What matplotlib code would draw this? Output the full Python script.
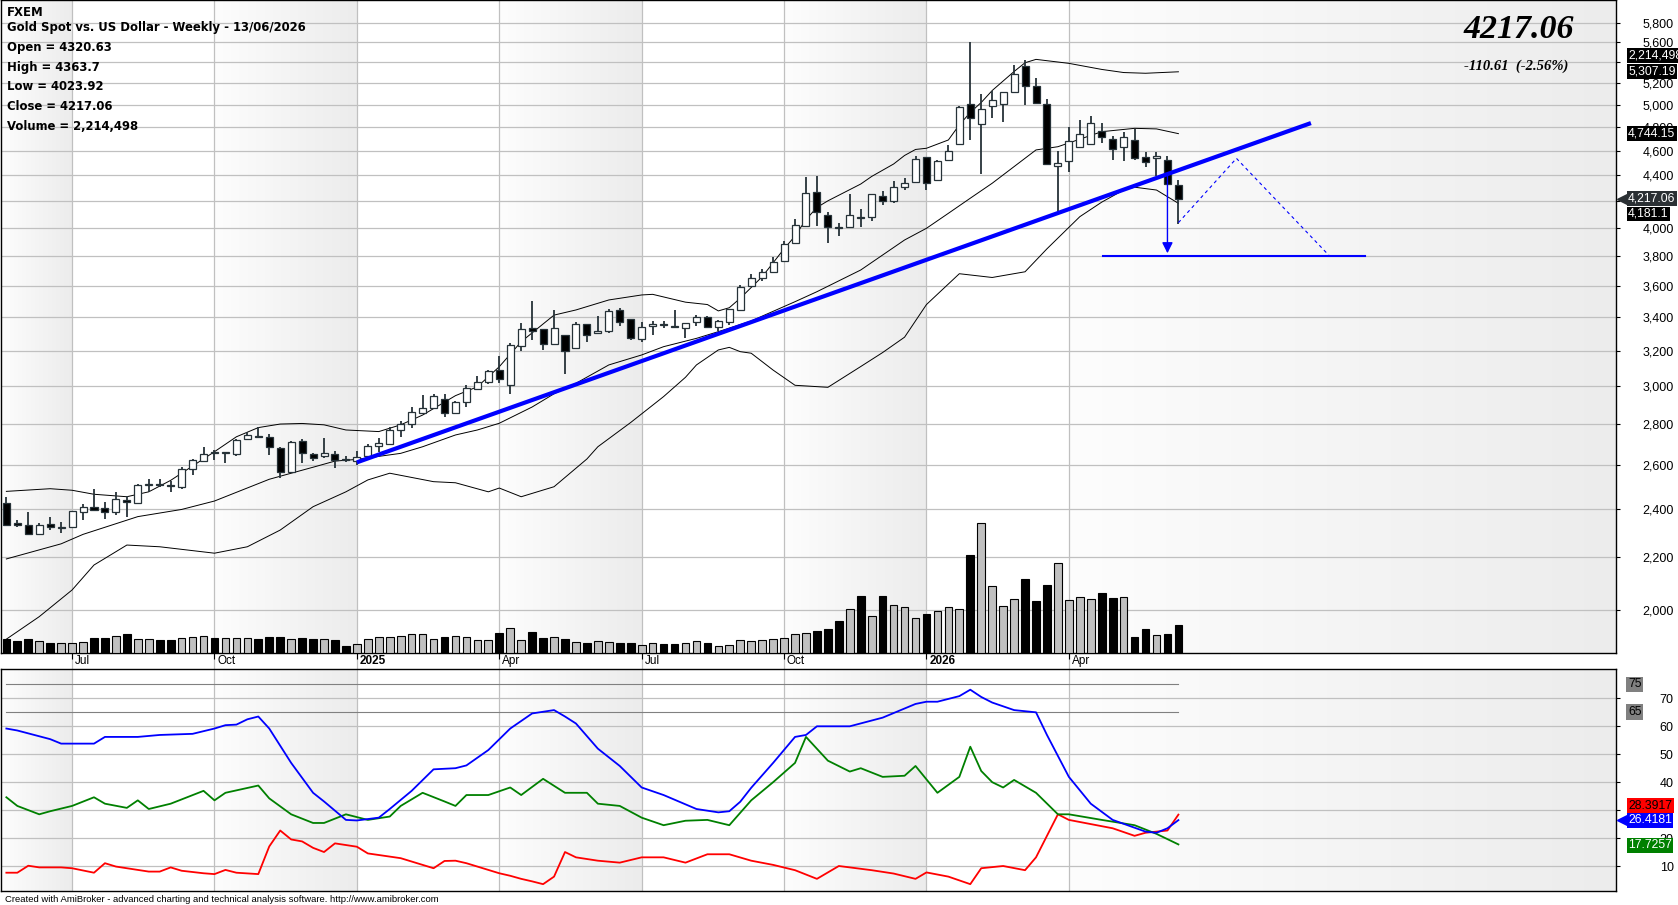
import numpy as np
import pandas as pd
import matplotlib
matplotlib.use("Agg")
import matplotlib.pyplot as plt
import matplotlib.transforms as mtransforms
from matplotlib.colors import LinearSegmentedColormap
from matplotlib.ticker import FixedLocator, FuncFormatter, NullLocator

# weekly OHLC, gold spot, 108 bars ending 12/06/2026
opens = [2429, 2342, 2333, 2294, 2337, 2322, 2326, 2389, 2411, 2406, 2389, 2441, 2430, 2508, 2512, 2507,
         2498, 2581, 2621, 2664, 2657, 2653, 2728, 2740, 2738, 2685, 2567, 2717, 2654, 2644, 2654, 2628,
         2620, 2646, 2692, 2703, 2771, 2803, 2860, 2885, 2934, 2860, 2917, 2986, 3024, 3088, 3007, 3227,
         3335, 3329, 3241, 3292, 3214, 3357, 3302, 3314, 3445, 3390, 3269, 3345, 3361, 3349, 3333, 3369,
         3404, 3339, 3369, 3447, 3596, 3649, 3689, 3767, 3894, 4013, 4269, 4090, 4003, 4008, 4080, 4075,
         4236, 4200, 4310, 4349, 4546, 4362, 4525, 4654, 5006, 4826, 4986, 5009, 5119, 5367, 5168, 5009,
         4477, 4517, 4634, 4657, 4771, 4697, 4629, 4691, 4546, 4541, 4525, 4320.63]
highs = [2453, 2354, 2389, 2343, 2368, 2344, 2395, 2424, 2489, 2433, 2479, 2461, 2512, 2535, 2535, 2529,
         2591, 2630, 2688, 2675, 2663, 2725, 2760, 2787, 2754, 2690, 2716, 2725, 2660, 2730, 2670, 2643,
         2670, 2701, 2730, 2787, 2816, 2890, 2951, 2960, 2960, 2920, 3007, 3055, 3090, 3172, 3246, 3365,
         3500, 3331, 3443, 3295, 3373, 3360, 3410, 3451, 3459, 3392, 3369, 3375, 3378, 3445, 3365, 3414,
         3406, 3384, 3451, 3604, 3678, 3711, 3796, 3904, 4064, 4385, 4392, 4113, 4038, 4251, 4138, 4255,
         4272, 4353, 4379, 4557, 4549, 4525, 4649, 4987, 5600, 5098, 5126, 5120, 5377, 5420, 5248, 5048,
         4600, 4800, 4864, 4899, 4835, 4723, 4762, 4786, 4587, 4592, 4552, 4363.7]
lows = [2330, 2323, 2292, 2292, 2312, 2301, 2324, 2354, 2395, 2358, 2378, 2368, 2428, 2479, 2500, 2479,
        2492, 2555, 2619, 2627, 2611, 2645, 2724, 2730, 2649, 2543, 2565, 2613, 2621, 2633, 2587, 2618,
        2600, 2642, 2665, 2701, 2738, 2784, 2858, 2883, 2838, 2858, 2890, 2984, 3012, 3019, 2957, 3196,
        3263, 3206, 3240, 3069, 3210, 3253, 3300, 3302, 3349, 3263, 3251, 3292, 3337, 3335, 3278, 3349,
        3333, 3318, 3353, 3445, 3593, 3633, 3687, 3765, 3892, 4010, 4013, 3894, 3937, 4005, 4008, 4050,
        4170, 4180, 4285, 4346, 4285, 4360, 4522, 4652, 4686, 4411, 4883, 4849, 5103, 5000, 5015, 4489,
        4125, 4424, 4631, 4654, 4666, 4525, 4512, 4525, 4467, 4392, 4327, 4023.92]
closes = [2333, 2335, 2294, 2333, 2323, 2324, 2393, 2411, 2399, 2389, 2444, 2433, 2509, 2512, 2508, 2503,
          2585, 2627, 2654, 2660, 2661, 2722, 2748, 2736, 2689, 2567, 2714, 2657, 2636, 2657, 2626, 2625,
          2638, 2694, 2706, 2774, 2803, 2864, 2884, 2946, 2860, 2917, 2990, 3022, 3084, 3038, 3233, 3327,
          3314, 3241, 3333, 3200, 3359, 3292, 3316, 3441, 3373, 3278, 3339, 3359, 3357, 3339, 3363, 3400,
          3339, 3375, 3449, 3593, 3649, 3689, 3762, 3887, 4020, 4259, 4118, 4008, 3998, 4092, 4068, 4251,
          4200, 4303, 4341, 4533, 4341, 4517, 4597, 4978, 4883, 4962, 5044, 5113, 5287, 5168, 5017, 4491,
          4499, 4683, 4743, 4835, 4714, 4611, 4714, 4537, 4507, 4557, 4327.67, 4217.06]
# volume, millions
volumes = [1.094, 0.964, 1.094, 0.938, 0.808, 0.782, 0.782, 0.886, 1.172, 1.172, 1.329, 1.511, 1.094, 1.094,
           1.042, 1.042, 1.172, 1.251, 1.329, 1.172, 1.172, 1.172, 1.172, 1.094, 1.251, 1.251, 1.094, 1.172,
           1.094, 1.094, 1.016, 0.573, 0.703, 1.094, 1.251, 1.251, 1.329, 1.511, 1.511, 1.094, 1.251, 1.329,
           1.251, 1.016, 1.016, 1.589, 1.954, 1.016, 1.667, 1.172, 1.251, 1.094, 0.886, 0.808, 0.964, 0.886,
           0.808, 0.808, 0.625, 0.782, 0.729, 0.729, 0.808, 0.938, 0.808, 0.547, 0.625, 1.016, 0.938, 1.016,
           1.094, 1.172, 1.485, 1.563, 1.746, 1.902, 2.527, 3.439, 4.481, 2.892, 4.481, 3.752, 3.595, 2.736,
           3.074, 3.283, 3.595, 3.439, 7.686, 10.161, 5.237, 3.673, 4.221, 5.810, 4.090, 5.341, 7.034, 4.142,
           4.377, 4.221, 4.716, 4.325, 4.377, 1.277, 1.902, 1.407, 1.511, 2.214498]

# bollinger bands, read at selected bars
upper_x = [0, 4, 6, 8, 11, 13, 15, 19, 21, 23, 25, 27, 29, 31, 34, 36, 38, 41, 43, 45, 47, 50, 52, 55, 58,
           59, 62, 64, 65, 66, 67, 69, 71, 72, 73, 74, 75, 78, 79, 81, 82, 83, 84, 86, 87, 88, 89, 90, 92,
           93, 94, 97, 100, 102, 104, 107]
upper = [2480, 2492, 2485, 2467, 2456, 2478, 2530, 2665, 2738, 2784, 2802, 2805, 2798, 2772, 2764, 2798,
         2848, 2950, 2998, 3109, 3253, 3414, 3446, 3509, 3541, 3545, 3495, 3480, 3440, 3460, 3520, 3660,
         3850, 3940, 4060, 4150, 4200, 4330, 4390, 4490, 4560, 4610, 4620, 4690, 4820, 4930, 5020, 5130,
         5310, 5395, 5428, 5389, 5330, 5300, 5293, 5307.19]
middle_x = [0, 5, 7, 12, 16, 19, 24, 26, 28, 30, 32, 36, 38, 41, 43, 45, 48, 50, 52, 55, 58, 60, 63, 65,
            68, 72, 74, 78, 82, 84, 86, 88, 90, 94, 96, 100, 103, 105, 107]
middle = [2194, 2255, 2294, 2369, 2400, 2437, 2535, 2563, 2591, 2620, 2628, 2657, 2689, 2747, 2772, 2806,
          2890, 2960, 3017, 3119, 3176, 3224, 3273, 3313, 3378, 3498, 3562, 3705, 3912, 3996, 4106, 4220,
          4336, 4606, 4633, 4761, 4790, 4785, 4744.15]
lower_x = [0, 3, 6, 8, 11, 14, 19, 22, 25, 28, 31, 33, 35, 39, 41, 44, 45, 47, 50, 53, 54, 57, 60, 62, 63,
           65, 66, 67, 68, 70, 72, 75, 78, 80, 82, 84, 87, 90, 93, 95, 98, 100, 102, 103, 105, 107]
lower = [1897, 1976, 2074, 2170, 2250, 2243, 2217, 2243, 2312, 2412, 2478, 2532, 2563, 2524, 2519, 2478,
         2495, 2456, 2501, 2630, 2689, 2810, 2945, 3050, 3119, 3205, 3220, 3195, 3186, 3090, 3006, 2995,
         3110, 3190, 3280, 3480, 3680, 3655, 3693, 3850, 4081, 4190, 4283, 4305, 4283, 4181.1]

# ADX / DMI
adx_x = [0, 1, 4, 5, 8, 9, 12, 14, 17, 19, 20, 21, 22, 23, 24, 26, 28, 29, 31, 32, 33, 34, 35, 37, 39, 41,
         42, 44, 46, 48, 50, 51, 52, 54, 56, 58, 60, 63, 65, 66, 67, 68, 70, 72, 73, 74, 77, 80, 83, 84, 85,
         87, 88, 89, 90, 92, 94, 95, 97, 99, 101, 104, 105, 106, 107]
adx = [59.2, 58.5, 55.4, 53.8, 53.8, 56.2, 56.2, 56.9, 57.3, 59.2, 60.4, 60.6, 62.5, 63.5, 59.2, 46.9, 36.2,
       33.1, 26.5, 26.3, 26.8, 27.3, 30.4, 36.9, 44.6, 45.0, 46.0, 51.5, 59.2, 64.6, 65.8, 63.5, 61.0, 52.0,
       45.8, 38.1, 35.4, 30.4, 29.2, 29.6, 33.0, 38.0, 46.9, 56.2, 56.9, 60.0, 60.0, 63.1, 68.0, 68.8, 68.8,
       70.8, 73.1, 70.5, 68.5, 65.8, 65.0, 56.9, 41.9, 32.3, 26.5, 22.3, 21.9, 23.5, 26.4181]
pdi_x = [0, 1, 3, 4, 6, 8, 9, 11, 12, 13, 15, 18, 19, 20, 23, 24, 26, 28, 29, 31, 33, 35, 36, 38, 40, 41,
         42, 44, 46, 47, 49, 51, 53, 54, 56, 58, 60, 62, 64, 66, 68, 70, 72, 73, 75, 77, 78, 80, 82, 83, 85,
         87, 88, 89, 90, 91, 92, 94, 96, 97, 100, 103, 105, 107]
pdi = [34.6, 31.5, 28.5, 29.6, 31.5, 34.6, 32.3, 30.8, 33.5, 30.4, 32.3, 36.9, 33.5, 36.2, 38.8, 34.2, 28.5,
       25.4, 25.4, 28.5, 26.5, 27.7, 31.5, 36.2, 33.1, 31.5, 35.4, 35.4, 38.1, 35.4, 41.2, 36.2, 36.2, 32.3,
       31.5, 27.3, 24.6, 26.2, 26.5, 24.6, 33.5, 40.0, 46.9, 56.2, 47.7, 43.8, 45.0, 41.9, 42.3, 45.8, 36.2,
       41.9, 52.7, 44.0, 40.0, 38.1, 40.8, 36.2, 28.5, 28.5, 26.5, 24.6, 21.5, 17.7257]
mdi_x = [0, 1, 2, 3, 5, 6, 8, 9, 10, 13, 14, 15, 16, 18, 19, 20, 21, 23, 24, 25, 26, 27, 28, 29, 30, 32,
         33, 36, 39, 40, 41, 42, 45, 46, 47, 48, 49, 50, 51, 52, 54, 56, 58, 60, 62, 64, 66, 68, 70, 72, 74,
         76, 79, 81, 83, 84, 86, 88, 89, 91, 93, 94, 96, 97, 101, 103, 104, 106, 107]
mdi = [7.6, 7.6, 10.1, 9.5, 9.5, 9.2, 7.6, 11.0, 9.8, 8.0, 8.0, 9.5, 8.3, 7.4, 7.1, 8.6, 7.6, 7.1, 17.0, 22.7,
       19.5, 18.8, 16.5, 15.0, 18.1, 16.9, 14.5, 12.8, 9.2, 11.8, 11.9, 11.0, 7.4, 6.5, 5.4, 4.5, 3.5, 6.2,
       15.0, 13.1, 11.9, 11.2, 13.1, 13.1, 11.2, 14.2, 14.2, 11.9, 10.4, 8.5, 5.4, 10.0, 8.5, 7.3, 5.4, 7.7,
       6.2, 3.5, 9.2, 10.0, 8.5, 13.1, 28.5, 26.5, 23.5, 20.8, 21.9, 22.7, 28.3917]

# drawn studies (bar index, price)
trend_x, trend_y = [32.0, 119.1], [2614, 4836]
target_x, target_y = [100.1, 124.0], [3800, 3800]
proj_x, proj_y = [107.0, 112.3, 120.8], [4037, 4536, 3800]

price_ticks = list(range(2000, 5801, 200))
price_hidden = [5400, 4200]          # covered by the value boxes
adx_ticks = [10, 20, 30, 40, 50, 60, 70]
adx_hidden = [30]

o, h, l, c = map(np.array, (opens, highs, lows, closes))
n = len(c)
idx = np.arange(n)
dates = pd.date_range(end="2026-06-12", periods=n, freq="W-FRI")
up = c >= o

W, H = 1678, 905
XR = 1616
fig = plt.figure(figsize=(W / 100, H / 100), dpi=100)


def rect(top, bottom):
    return [1 / W, 1 - bottom / H, (XR - 1) / W, (bottom - top) / H]


xlim = (-0.49, 146.95)
bg = fig.add_axes(rect(0, 653))
ax = fig.add_axes(rect(0, 653), sharex=bg)
axv = fig.add_axes(rect(0, 653), sharex=bg)
ax2 = fig.add_axes(rect(669.3, 890.7), sharex=bg)
bg.set_xlim(*xlim)
bg.axis("off")
ax.patch.set_visible(False)
axv.patch.set_visible(False)
axv.axis("off")

# quarter ticks
qt = [i for i in range(1, n) if dates[i].month in (1, 4, 7, 10) and dates[i].month != dates[i - 1].month]
qlab = [str(dates[i].year) if dates[i].month == 1 else dates[i].strftime("%b") for i in qt]

# alternating quarter shading
shade = LinearSegmentedColormap.from_list("sh", ["#fdfdfd", "#ececec"])
spans = [(xlim[0], qt[0])] + [(qt[k], qt[k + 1]) for k in range(1, len(qt) - 1, 2)] + [(qt[-1], xlim[1])]
grad = np.linspace(0, 1, 256).reshape(1, -1)
for a, b in spans:
    bg.imshow(grad, cmap=shade, aspect="auto", extent=(a, b, 0, 1), zorder=0)
    ax2.imshow(grad, cmap=shade, aspect="auto", extent=(a, b, 0, 82), zorder=0)
bg.set_ylim(0, 1)

gc = "#c0c0c0"
wick = "#263238"

# price pane
ax.set_yscale("log")
ax.set_ylim(1850, 6045)
ax.set_xlim(*xlim)
ax.yaxis.set_major_locator(FixedLocator(price_ticks))
ax.yaxis.set_minor_locator(NullLocator())
ax.yaxis.set_major_formatter(FuncFormatter(lambda v, p: "" if round(v) in price_hidden else f"{v:,.0f}"))
ax.grid(True, axis="both", color=gc, lw=0.9)
ax.set_axisbelow(True)
ax.set_xticks(qt)
ax.tick_params(axis="x", length=4, color="black", labelbottom=False)

ax.vlines(idx, l, h, color=wick, lw=1.3, zorder=3)
body = np.maximum(np.abs(c - o), c * 0.0018)
ax.bar(idx, body, bottom=np.minimum(o, c) - (body - np.abs(c - o)) / 2, width=0.64,
       color=np.where(up, "white", "black"), edgecolor=wick, lw=0.9, zorder=4)

for xs, ys in ((upper_x, upper), (middle_x, middle), (lower_x, lower)):
    ax.plot(xs, ys, color="black", lw=0.7, zorder=2)

ax.plot(trend_x, trend_y, color="#0000ff", lw=3, solid_capstyle="butt", zorder=5)
ax.plot(target_x, target_y, color="#0000ff", lw=1.5, zorder=5)
ax.plot(proj_x, proj_y, color="#0000ff", lw=0.8, ls=(0, (3, 3)), zorder=5)
ax.annotate("", xy=(106, 3800), xytext=(106, 4415),
            arrowprops=dict(arrowstyle="-|>", color="#0000ff", lw=1, mutation_scale=16), zorder=6)

# volume overlay
axv.set_ylim(0, 51.0)
axv.bar(idx, volumes, width=0.7, color=np.where(up, "#c0c0c0", "black"), edgecolor="black", lw=0.8)

for sp in ax.spines.values():
    sp.set_color("black")
    sp.set_linewidth(1)

ax.yaxis.tick_right()
ax.tick_params(axis="y", length=3, color="black", pad=38.5, labelsize=9)
for t in ax.get_yticklabels():
    t.set_horizontalalignment("right")
    t.set_fontfamily("Liberation Sans")

# date labels and grid through the date strip
blend = mtransforms.blended_transform_factory(ax.transData, ax.transAxes)
for t, s in zip(qt, qlab):
    ax.text(t + 0.25, -0.0125, s, transform=blend, ha="left", va="center",
            fontsize=8.5, family="Liberation Sans", fontweight="bold" if s.isdigit() else "normal")
    ax.plot([t, t], [-0.0265, 0], transform=blend, color=gc, lw=0.9, clip_on=False, zorder=0)

# value boxes on the price scale
yb = mtransforms.blended_transform_factory(ax.transAxes, ax.transData)


def box(axis, tr, y, s, fc, tc, pointer=False):
    axis.text(1.0075, y, s, transform=tr, ha="left", va="center", color=tc, fontsize=8.8,
              family="Liberation Sans", clip_on=False, zorder=10,
              bbox=dict(boxstyle="square,pad=0.12", fc=fc, ec="none"))
    if pointer:
        axis.plot([1.0040], [y], transform=tr, marker="<", ms=7, color=fc, clip_on=False, zorder=10)


box(ax, yb, 5466, "2,214,498", "black", "white")
box(ax, yb, 5307.19, "5,307.19", "black", "white")
box(ax, yb, 4744.15, "4,744.15", "black", "white")
box(ax, yb, 4217.06, "4,217.06", "#2b3034", "white", pointer=True)
box(ax, yb, 4101, "4,181.1", "black", "white")

# ADX pane
ax2.set_xlim(*xlim)
ax2.set_ylim(1.16, 80.4)
ax2.plot(mdi_x, mdi, color="#ff0000", lw=1.3, zorder=3)
ax2.plot(pdi_x, pdi, color="#008000", lw=1.3, zorder=3)
ax2.plot(adx_x, adx, color="#0000ff", lw=1.3, zorder=4)
ax2.plot([0, n - 1], [75, 75], color="#808080", lw=0.8, zorder=2)
ax2.plot([0, n - 1], [65, 65], color="#808080", lw=0.8, zorder=2)
ax2.grid(True, axis="both", color=gc, lw=0.9)
ax2.set_axisbelow(True)
ax2.yaxis.set_major_locator(FixedLocator(adx_ticks))
ax2.yaxis.set_major_formatter(FuncFormatter(lambda v, p: "" if round(v) in adx_hidden else f"{v:.0f}"))
ax2.yaxis.tick_right()
ax2.tick_params(axis="y", length=3, color="black", pad=38.5, labelsize=9)
ax2.tick_params(axis="x", bottom=False, labelbottom=False)
for t in ax2.get_yticklabels():
    t.set_horizontalalignment("right")
    t.set_fontfamily("Liberation Sans")
for sp in ax2.spines.values():
    sp.set_color("black")
    sp.set_linewidth(1)

yb2 = mtransforms.blended_transform_factory(ax2.transAxes, ax2.transData)
for lv in (75, 65):
    ax2.text(1.0075, lv, str(lv), transform=yb2, ha="left", va="center", fontsize=8.8,
             family="Liberation Sans", clip_on=False,
             bbox=dict(boxstyle="square,pad=0.15", fc="#808080", ec="none"))
box(ax2, yb2, 31.6, "28.3917", "#ff0000", "black")
box(ax2, yb2, 26.4181, "26.4181", "#0000ff", "white", pointer=True)
box(ax2, yb2, 17.5, "17.7257", "#008000", "white")

# header texts
info = ["FXEM", "Gold Spot vs. US Dollar - Weekly - 13/06/2026", "Open = 4320.63", "High = 4363.7",
        "Low = 4023.92", "Close = 4217.06", "Volume = 2,214,498"]
info_y = [12, 28, 47, 67, 87, 107, 126.5]
for s, yy in zip(info, info_y):
    fig.text(7 / W, 1 - yy / H, s, ha="left", va="center",
             fontsize=8.4, family="DejaVu Sans", fontweight="bold")

fig.text(1519 / W, 1 - 30 / H, "4217.06", ha="center", va="center", fontsize=24.5,
         family="Liberation Serif", fontweight="bold", style="italic")
fig.text(1516 / W, 1 - 66 / H, "-110.61  (-2.56%)", ha="center", va="center", fontsize=10.5,
         family="Liberation Serif", fontweight="bold", style="italic")
fig.text(5 / W, 1 - 899 / H,
         "Created with AmiBroker - advanced charting and technical analysis software. http://www.amibroker.com",
         ha="left", va="center", fontsize=6.8, family="Liberation Sans")

fig.savefig("out.png", dpi=100, facecolor="white")
